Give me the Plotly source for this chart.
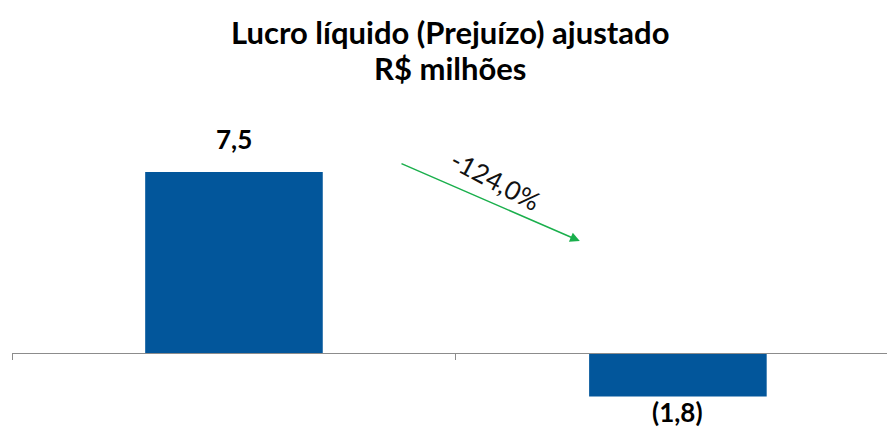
import plotly.graph_objects as go

# Dados do gráfico
categorias = ["1T", "2T"]
valores = [7.5, -1.8]
rotulos = ["7,5", "(1,8)"]
variacao = "-124,0%"
titulo = ["Lucro líquido (Prejuízo) ajustado", "R$ milhões"]

FONT = "Lato"
AZUL = "#02569b"

ymin, ymax = -2.818, 10.485
TOPO, BASE, ALTURA = 100, 20, 441
alt_plot = ALTURA - TOPO - BASE

fig = go.Figure()

fig.add_trace(
    go.Bar(
        x=list(range(len(categorias))),
        y=valores,
        width=0.4,
        marker_color=AZUL,
        marker_line_width=0,
        hoverinfo="skip",
    )
)

# Rótulos de valor acima/abaixo das barras
for i, (v, r) in enumerate(zip(valores, rotulos)):
    fig.add_annotation(
        x=i, y=v, text=f"<b>{r}</b>", showarrow=False,
        yshift=33 if v >= 0 else -16,
        font=dict(family=FONT, size=26, color="black"),
    )

# Seta da variação
fig.add_annotation(
    x=0.779, y=4.64, ax=0.374, ay=7.874,
    xref="x", yref="y", axref="x", ayref="y",
    text="", showarrow=True, arrowhead=2, arrowsize=1.3,
    arrowwidth=1.5, arrowcolor="#1aaf4c",
)
fig.add_annotation(
    x=0.588, y=7.15, xref="x", yref="y",
    text=variacao, showarrow=False, textangle=28,
    font=dict(family=FONT, size=26, color="#111111"),
)

# Título em duas linhas
for linha, ypix in zip(titulo, [32, 68]):
    fig.add_annotation(
        x=0.5, y=(ALTURA - BASE - ypix) / alt_plot, xref="paper", yref="paper",
        xanchor="center", yanchor="middle", showarrow=False,
        text=f"<b>{linha}</b>",
        font=dict(family=FONT, size=31, color="black"),
    )

fig.update_layout(
    width=887, height=ALTURA,
    margin=dict(l=12, r=0, t=TOPO, b=BASE, autoexpand=False),
    paper_bgcolor="white", plot_bgcolor="white",
    showlegend=False,
)

fig.update_xaxes(
    range=[-0.5, 1.471], anchor="free",
    position=(0 - ymin) / (ymax - ymin),
    showline=True, linecolor="#8c8c8c", linewidth=1,
    ticks="outside", tickvals=[-0.5, 0.5, 1.5], ticklen=6,
    tickcolor="#8c8c8c", showticklabels=False, showgrid=False,
    zeroline=False,
)
fig.update_yaxes(
    range=[ymin, ymax], visible=False, showgrid=False, zeroline=False,
)

fig.write_html(
    "out.html",
    config={"displayModeBar": False},
    post_script="document.body.style.margin='0';",
)
